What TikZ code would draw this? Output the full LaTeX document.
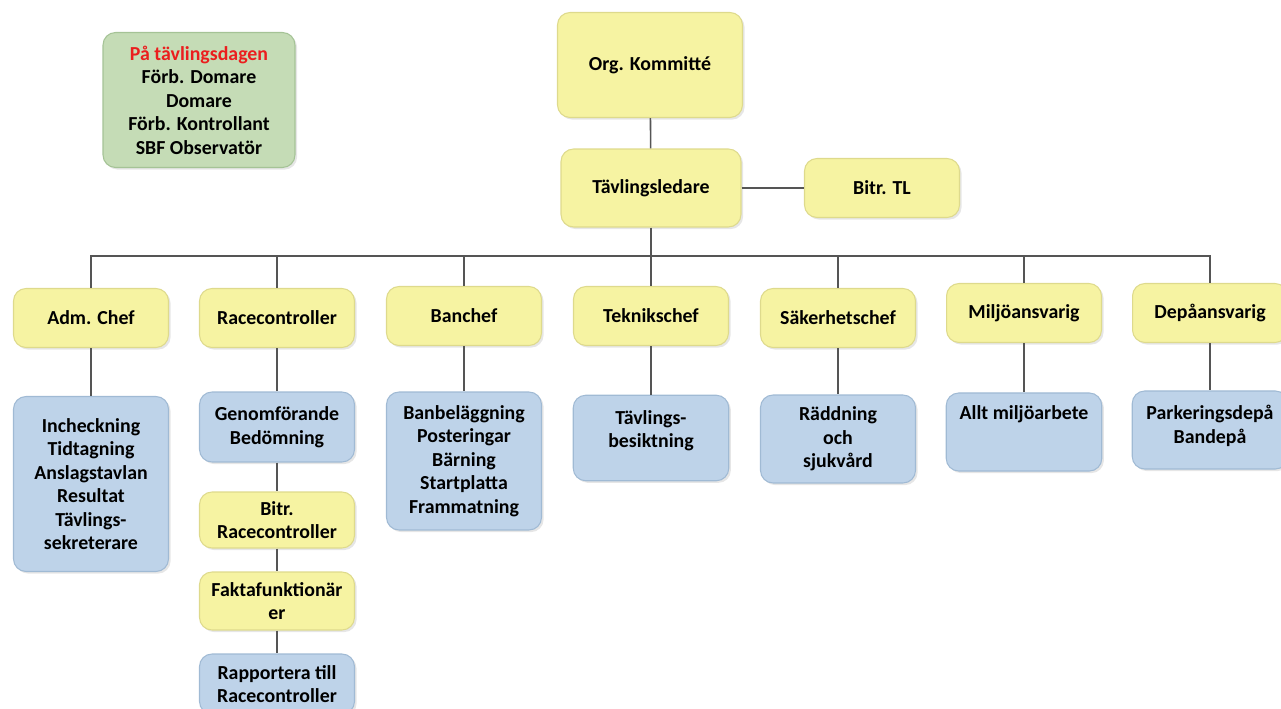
\documentclass[tikz,border=0pt]{standalone}
\usepackage{fontspec}
\setmainfont{Carlito}
\usetikzlibrary{shadows}

\definecolor{gulfyll}{RGB}{246,243,162}
\definecolor{gulkant}{RGB}{222,218,140}
\definecolor{blafyll}{RGB}{190,211,233}
\definecolor{blakant}{RGB}{160,186,212}
\definecolor{grontfyll}{RGB}{197,220,182}
\definecolor{grontkant}{RGB}{165,195,150}
\definecolor{linje}{RGB}{85,85,85}
\definecolor{rubrik}{RGB}{235,30,30}

\newcommand{\toppruta}[3]{\parbox[c][#1][t]{2.9cm}{\vspace*{#2}\centering #3}}

\begin{document}
\begin{tikzpicture}[x=0.02cm,y=0.02cm,
  ruta/.style={rounded corners=0.25cm, align=center, inner sep=3pt,
    font=\bfseries\fontsize{11.3}{13.4}\selectfont,
    drop shadow={opacity=0.2, shadow xshift=1.2pt, shadow yshift=-1.2pt}},
  gul/.style={ruta, fill=gulfyll, draw=gulkant, line width=0.6pt,
    minimum width=3.1cm, minimum height=1.18cm},
  bla/.style={ruta, fill=blafyll, draw=blakant, line width=0.6pt,
    minimum width=3.1cm},
  link/.style={draw=linje, line width=0.9pt}]
  \clip (0,0) rectangle (1281,-709);

  % Ledning
  \node[gul, minimum width=3.7cm, minimum height=2.1cm] (org) at (650,-65) {Org. Kommitté};
  \node[gul, minimum width=3.6cm, minimum height=1.56cm] (tl) at (651,-188) {Tävlingsledare};
  \node[gul] (bitrtl) at (882,-188) {Bitr. TL};

  % Tävlingsdagen
  \node[ruta, fill=grontfyll, draw=grontkant, line width=0.6pt,
    minimum width=3.84cm, minimum height=2.7cm] (dagen) at (199,-100)
    {\textcolor{rubrik}{På tävlingsdagen}\\Förb. Domare\\Domare\\Förb. Kontrollant\\SBF Observatör};

  % Chefer
  \node[gul] (adm)  at (91,-318)   {Adm. Chef};
  \node[gul] (race) at (277,-318)  {Racecontroller};
  \node[gul] (ban)  at (464,-316)  {Banchef};
  \node[gul] (tek)  at (651,-316)  {Teknikschef};
  \node[gul] (sak)  at (838,-318)  {Säkerhetschef};
  \node[gul] (milj) at (1024,-313) {Miljöansvarig};
  \node[gul] (depa) at (1210,-313) {Depåansvarig};

  % Uppgifter
  \node[bla, minimum height=3.5cm]  (admsub)  at (91,-484)  {Incheckning\\Tidtagning\\Anslagstavlan\\Resultat\\Tävlings-\\sekreterare};
  \node[bla, minimum height=1.4cm]  (racesub) at (277,-427) {Genomförande\\Bedömning};
  \node[bla, minimum height=2.76cm] (bansub)  at (464,-461) {Banbeläggning\\Posteringar\\Bärning\\Startplatta\\Frammatning};
  \node[bla] (teksub)  at (651,-438)  {\toppruta{1.5cm}{0.2cm}{Tävlings-\\besiktning}};
  \node[bla, minimum height=1.76cm] (saksub)  at (838,-439)  {Räddning\\och\\sjukvård};
  \node[bla] (miljsub) at (1024,-432) {\toppruta{1.35cm}{0.14cm}{Allt miljöarbete}};
  \node[bla] (depasub) at (1210,-430) {\toppruta{1.35cm}{0.18cm}{Parkeringsdepå\\Bandepå}};

  % Racecontroller
  \node[gul, minimum height=1.12cm] (bitrrc) at (277,-520) {Bitr.\\Racecontroller};
  \node[gul, minimum height=1.16cm] (fakta)  at (277,-601) {Faktafunktionär\\er};
  \node[bla, minimum height=1.2cm]  (rapp)   at (277,-684) {Rapportera till\\Racecontroller};

  % Linjer
  \draw[link] (org) -- (tl);
  \draw[link] (tl) -- (bitrtl);
  \coordinate (buss) at (651,-256);
  \draw[link] (tl.south) -- (buss);
  \foreach \n in {adm,race,ban,tek,sak,milj,depa}
    \draw[link] (buss) -| (\n.north);
  \foreach \a/\b in {adm/admsub,race/racesub,ban/bansub,tek/teksub,sak/saksub,
      milj/miljsub,depa/depasub,racesub/bitrrc,bitrrc/fakta,fakta/rapp}
    \draw[link] (\a.south) -- (\b.north);
\end{tikzpicture}
\end{document}
